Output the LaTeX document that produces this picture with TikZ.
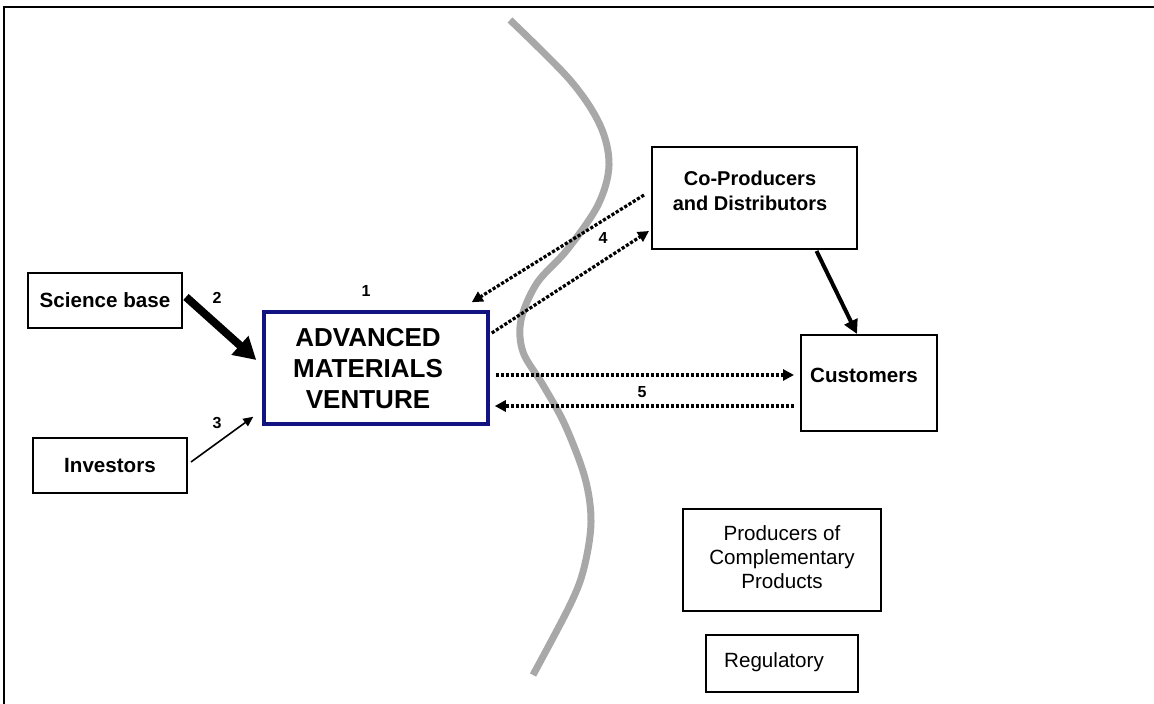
\documentclass[tikz,border=0pt]{standalone}
\usepackage{fontspec}
\setmainfont{Liberation Sans}
\usetikzlibrary{arrows.meta,calc}
\definecolor{navy}{RGB}{18,18,128}
\definecolor{wavegray}{RGB}{168,168,168}
\begin{document}
\begin{tikzpicture}[x=0.5pt,y=-0.5pt,
  box/.style={draw, line width=1pt, inner sep=0pt},
  bold/.style={font=\fontsize{10.3}{12.5}\selectfont\bfseries, align=center, inner sep=0pt},
  plain/.style={font=\fontsize{10.3}{12}\selectfont, align=center, inner sep=0pt},
  num/.style={font=\fontsize{8}{9}\selectfont\bfseries, inner sep=0pt},
  dotline/.style={line width=1.6pt, dash pattern=on 1.6pt off 0.9pt, -{Triangle[length=5.5pt,width=5.5pt]}}]
\path[use as bounding box] (0,0) rectangle (1154,704);
% frame
\draw[line width=1pt] (4,720) -- (4,7) -- (1170,7);
% wave
\draw[wavegray, line width=3.5pt] plot[smooth, tension=0.55] coordinates {(510,20) (570,80) (600,125) (609,165) (598,205) (567,250) (537,283) (521,320) (523,352) (543,385) (565,425) (585,478) (591,522) (584,568) (570,605) (533,675)};
% boxes
\node[box, minimum width=77pt, minimum height=27.5pt, font=\fontsize{10.3}{12}\selectfont\bfseries] (sci) at (105,300.5) {Science base};
\node[box, minimum width=77pt, minimum height=27.5pt, font=\fontsize{10.3}{12}\selectfont\bfseries] (inv) at (110,465.5) {Investors};
\node[draw=navy, line width=1.75pt, inner sep=0pt, minimum width=112pt, minimum height=56pt] (amv) at (376,368) {};
\node[font=\fontsize{13}{15.5}\selectfont\bfseries, align=center, inner sep=0pt] (amvt) at (368,369) {ADVANCED\\MATERIALS\\VENTURE};
\node[box, minimum width=102.5pt, minimum height=51pt] (cop) at (754.5,198) {};
\node[bold, font=\fontsize{10}{12.5}\selectfont\bfseries] (copt) at (750,190.5) {Co-Producers\\and Distributors};
\node[box, minimum width=68pt, minimum height=48pt] (cus) at (869,383) {};
\node[bold] (cust) at (864,375) {Customers};
\node[box, minimum width=99pt, minimum height=51pt] (pcp) at (782,560) {};
\node[plain] (pcpt) at (782,557) {Producers of\\Complementary\\Products};
\node[box, minimum width=76pt, minimum height=28.5pt] (reg) at (782,663.5) {};
\node[plain] (regt) at (774,662) {Regulatory};
% numbers
\node[num] (n1) at (366,291) {1};
\node[num] (n2) at (217,298) {2};
\node[num] (n3) at (217,423) {3};
\node[num] (n4) at (603,238) {4};
\node[num] (n5) at (642,392) {5};
% connectors
\draw[line width=4pt, -{Triangle[length=11pt,width=12pt]}] ($(sci.east)+(3,-3.5)$) -- ($(amv.west)+(-6,-8)$);
\draw[line width=0.8pt, -{Triangle[length=5pt,width=4.5pt]}] ($(inv.east)+(3,-3.5)$) -- ($(amv.south west)+(-9,-9)$);
\draw[dotline] ($(cop.west)+(-7,-3)$) -- ($(amv.north east)+(-18,-8)$);
\draw[dotline] ($(amv.east)+(2,-35)$) -- ($(cop.south west)+(-2,-19)$);
\draw[dotline] ($(amv.east)+(6,7)$) -- ($(cus.west)+(-6,-8)$);
\draw[dotline] ($(cus.west)+(-6,23)$) -- ($(amv.east)+(5,38)$);
\draw[line width=2pt, -{Triangle[length=7pt,width=7pt]}] ($(cop.south)+(62,1)$) -- ($(cus.north)+(-12,0)$);
\end{tikzpicture}
\end{document}
